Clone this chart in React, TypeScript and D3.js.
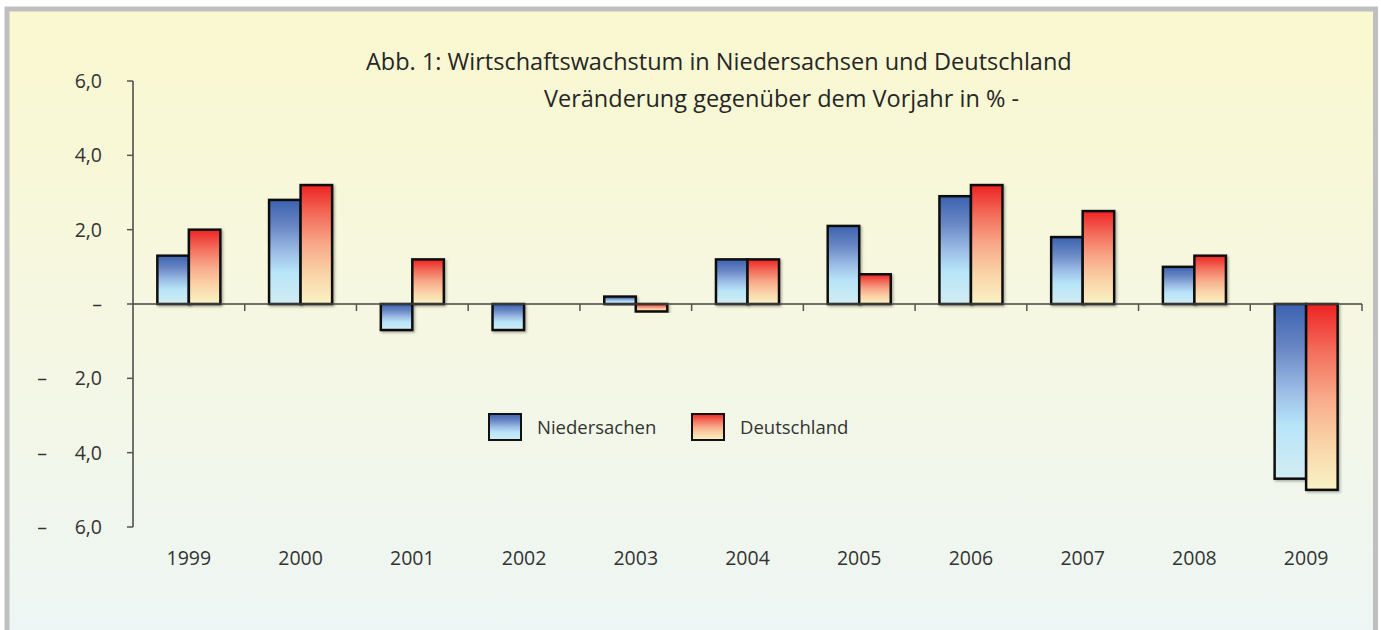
import * as d3 from 'd3';
import React, { useEffect, useRef } from 'react';

// Chart data
const years = ["1999", "2000", "2001", "2002", "2003", "2004", "2005", "2006", "2007", "2008", "2009"];
const seriesNames = ["Niedersachen", "Deutschland"];
const niedersachsen = [1.3, 2.8, -0.7, -0.7, 0.2, 1.2, 2.1, 2.9, 1.8, 1.0, -4.7];
const deutschland = [2.0, 3.2, 1.2, 0.0, -0.2, 1.2, 0.8, 3.2, 2.5, 1.3, -5.0];
const yTicks = [6, 4, 2, 0, -2, -4, -6];
const titleLines = [
  "Abb. 1: Wirtschaftswachstum in Niedersachsen und Deutschland",
  "Veränderung gegenüber dem Vorjahr in % -",
];

const W = 1381;
const H = 630;
const FONT = "'Open Sans', 'Noto Sans', sans-serif";
const TEXT = "#333333";

const App: React.FC = () => {
  const ref = useRef<SVGSVGElement>(null);

  useEffect(() => {
    if (!ref.current) return;
    const svg = d3.select(ref.current);
    svg.selectAll("*").remove();
    svg.attr("width", W).attr("height", H);

    const defs = svg.append("defs");

    // background gradient
    const bg = defs.append("linearGradient").attr("id", "bg")
      .attr("x1", 0).attr("y1", 0).attr("x2", 0).attr("y2", 1);
    bg.append("stop").attr("offset", "0%").attr("stop-color", "#faf8cf");
    bg.append("stop").attr("offset", "50%").attr("stop-color", "#f5f7e2");
    bg.append("stop").attr("offset", "100%").attr("stop-color", "#edf6f6");

    // bar gradients
    const gradStops: Record<string, [string, string][]> = {
      g0: [["0%", "#3c62b0"], ["25%", "#6886c4"], ["50%", "#9cbde6"], ["70%", "#b8e5f8"], ["100%", "#d2ecf2"]],
      g1: [["0%", "#ee2323"], ["25%", "#f36d5a"], ["50%", "#f8a98a"], ["75%", "#fad4a8"], ["100%", "#f8f3c5"]],
    };
    Object.entries(gradStops).forEach(([id, stops]) => {
      const g = defs.append("linearGradient").attr("id", id)
        .attr("x1", 0).attr("y1", 0).attr("x2", 0).attr("y2", 1);
      stops.forEach(([o, c]) => g.append("stop").attr("offset", o).attr("stop-color", c));
    });

    const shadow = defs.append("filter").attr("id", "shadow")
      .attr("x", "-20%").attr("y", "-20%").attr("width", "140%").attr("height", "140%");
    shadow.append("feDropShadow").attr("dx", 1.5).attr("dy", 1.5)
      .attr("stdDeviation", 1).attr("flood-color", "#000").attr("flood-opacity", 0.3);

    // frame
    svg.append("rect")
      .attr("x", 7).attr("y", 9).attr("width", 1368.5).attr("height", 640)
      .attr("fill", "url(#bg)").attr("stroke", "#bfbfbf").attr("stroke-width", 5);

    // scales
    const x = d3.scaleBand().domain(years).range([133, 1362]).padding(0);
    const bw = x.bandwidth();
    const x1 = d3.scaleBand().domain(seriesNames).range([bw * 0.218, bw * 0.782]).padding(0);
    const y = d3.scaleLinear().domain([-6, 6]).range([527, 81]);

    // title
    svg.append("text").attr("x", 366).attr("y", 70)
      .attr("font-family", FONT).attr("font-size", 23.5).attr("fill", "#262626")
      .text(titleLines[0]);
    svg.append("text").attr("x", 544).attr("y", 107)
      .attr("font-family", FONT).attr("font-size", 23.5).attr("fill", "#262626")
      .text(titleLines[1]);

    // bars
    const values = [niedersachsen, deutschland];
    const barLayer = svg.append("g");
    values.forEach((vals, si) => {
      barLayer.selectAll(`.bar-${si}`)
        .data(vals.map((v, i) => ({ year: years[i], v })).filter(d => d.v !== 0))
        .enter().append("rect")
        .attr("class", `bar-${si}`)
        .attr("x", d => (x(d.year) as number) + (x1(seriesNames[si]) as number))
        .attr("y", d => y(Math.max(0, d.v)))
        .attr("width", x1.bandwidth())
        .attr("height", d => Math.abs(y(d.v) - y(0)))
        .attr("fill", `url(#g${si})`)
        .attr("stroke", "#111")
        .attr("stroke-width", 2.5)
        .attr("filter", "url(#shadow)");
    });

    // x axis line and ticks
    const axisG = svg.append("g");
    axisG.append("line")
      .attr("x1", 133).attr("x2", 1362).attr("y1", y(0)).attr("y2", y(0))
      .attr("stroke", "#444").attr("stroke-width", 1.5);
    const boundaries = years.map(yr => x(yr) as number).concat([1362]);
    axisG.selectAll(".xt").data(boundaries.slice(1)).enter().append("line")
      .attr("x1", d => d).attr("x2", d => d)
      .attr("y1", y(0)).attr("y2", y(0) + 7)
      .attr("stroke", "#555").attr("stroke-width", 1.5);
    axisG.selectAll(".xl").data(years).enter().append("text")
      .attr("x", d => (x(d) as number) + bw / 2)
      .attr("y", 565)
      .attr("text-anchor", "middle")
      .attr("font-family", FONT).attr("font-size", 19.5).attr("fill", TEXT)
      .text(d => d);

    // y axis
    axisG.append("line")
      .attr("x1", 133).attr("x2", 133).attr("y1", y(6)).attr("y2", y(-6))
      .attr("stroke", "#444").attr("stroke-width", 1.5);
    axisG.selectAll(".yt").data(yTicks).enter().append("line")
      .attr("x1", 127).attr("x2", 133)
      .attr("y1", d => y(d)).attr("y2", d => y(d))
      .attr("stroke", "#555").attr("stroke-width", 1.5);
    const fmt = (v: number) => v === 0 ? "–" : Math.abs(v).toFixed(1).replace(".", ",");
    axisG.selectAll(".yl").data(yTicks).enter().append("text")
      .attr("x", 102)
      .attr("y", d => y(d) + 7)
      .attr("text-anchor", "end")
      .attr("font-family", FONT).attr("font-size", 19.5).attr("fill", TEXT)
      .text(d => fmt(d));
    axisG.selectAll(".ym").data(yTicks.filter(v => v < 0)).enter().append("text")
      .attr("x", 42)
      .attr("y", d => y(d) + 7)
      .attr("text-anchor", "middle")
      .attr("font-family", FONT).attr("font-size", 19.5).attr("fill", TEXT)
      .text("–");

    // legend
    const legendX = [489, 692];
    seriesNames.forEach((name, i) => {
      svg.append("rect")
        .attr("x", legendX[i]).attr("y", 414).attr("width", 32).attr("height", 26)
        .attr("fill", `url(#g${i})`).attr("stroke", "#111").attr("stroke-width", 2);
      svg.append("text")
        .attr("x", legendX[i] + 48).attr("y", 434)
        .attr("font-family", FONT).attr("font-size", 18.5).attr("fill", TEXT)
        .text(name);
    });
  }, []);

  return (
    <svg ref={ref} style={{ position: "absolute", left: 0, top: 0, display: "block" }}></svg>
  );
};

export default App;
